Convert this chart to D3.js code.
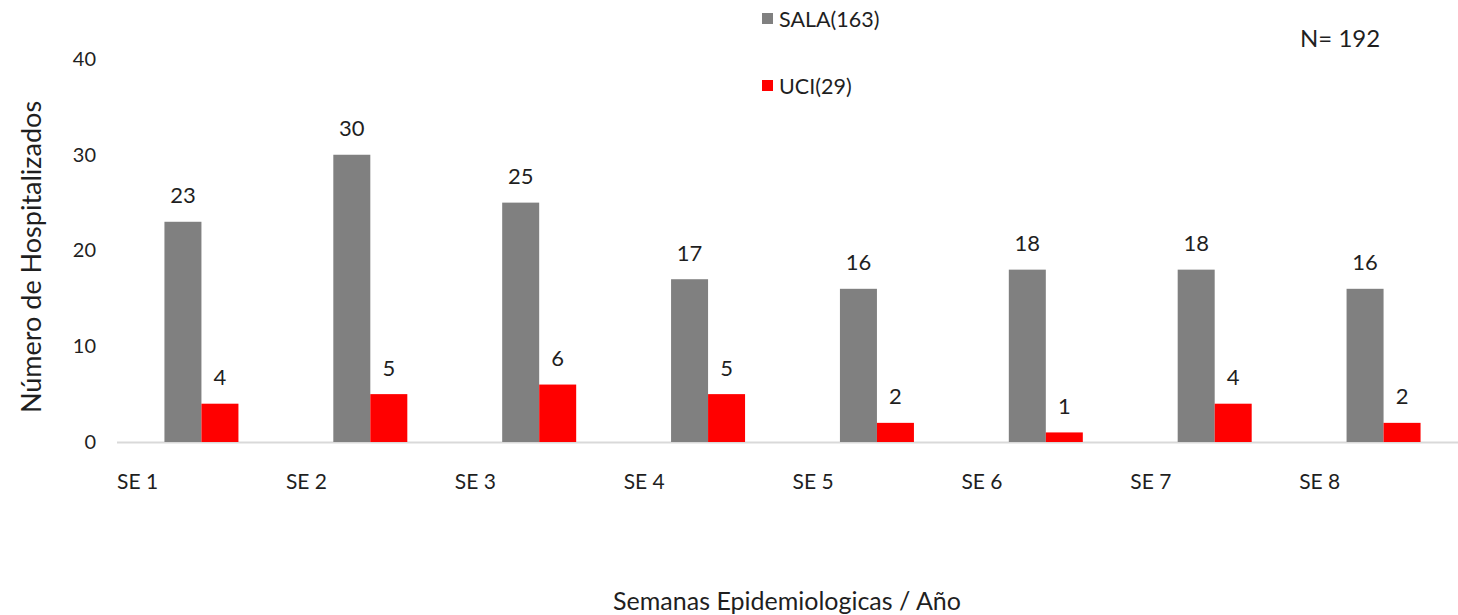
<!DOCTYPE html>
<html><head><meta charset="utf-8">
<script src="https://cdn.jsdelivr.net/npm/d3@7"></script>
<style>body{margin:0;background:#fff}svg{display:block}text{font-family:Lato,"Open Sans",sans-serif;fill:#1f1f1f}</style>
</head><body>
<svg id="c" width="1458" height="615"></svg>
<script>
const categories = ["SE 1","SE 2","SE 3","SE 4","SE 5","SE 6","SE 7","SE 8"];
const seriesNames = ["SALA(163)","UCI(29)"];
const sala = [23,30,25,17,16,18,18,16];
const uci = [4,5,6,5,2,1,4,2];
const yTicks = [0,10,20,30,40];
const colors = ["#808080","#ff0000"];

const svg = d3.select("#c");
const y = d3.scaleLinear().domain([0,40]).range([442,59]);
const x = d3.scaleBand().domain(categories).range([117,1468]).padding(0);
const bw = x.bandwidth();
const x1 = d3.scaleBand().domain([0,1]).range([bw/2-37, bw/2+37]);

// axis line
svg.append("line").attr("x1",117).attr("x2",1458).attr("y1",y(0)+0.5).attr("y2",y(0)+0.5)
  .attr("stroke","#d9d9d9").attr("stroke-width",2);

// y ticks
const yAxis = d3.axisLeft(y).tickValues(yTicks).tickSize(0).tickPadding(0);
const ga = svg.append("g").attr("transform","translate(96,0)").call(yAxis);
ga.select(".domain").remove();
ga.selectAll("text").style("font-size","20px").style("font-family","Lato,'Open Sans',sans-serif").attr("fill","#1f1f1f");

// bars
const data = categories.map((c,i)=>({c, vals:[sala[i],uci[i]]}));
const g = svg.selectAll("g.cat").data(data).join("g").attr("class","cat")
  .attr("transform",d=>`translate(${x(d.c)},0)`);
g.selectAll("rect").data(d=>d.vals.map((v,k)=>({v,k}))).join("rect")
  .attr("x",d=>x1(d.k)).attr("width",x1.bandwidth())
  .attr("y",d=>y(d.v)).attr("height",d=>y(0)-y(d.v))
  .attr("fill",d=>colors[d.k]);
g.selectAll("text.lbl").data(d=>d.vals.map((v,k)=>({v,k}))).join("text").attr("class","lbl")
  .attr("x",d=>x1(d.k)+x1.bandwidth()/2).attr("y",d=>y(d.v)-27)
  .attr("text-anchor","middle").attr("font-size","22px").attr("dominant-baseline","central")
  .text(d=>d.v);

// x labels
svg.selectAll("text.xl").data(categories).join("text").attr("class","xl")
  .attr("x",d=>x(d)).attr("y",480).attr("dominant-baseline","central")
  .attr("font-size","21px").text(d=>d);

// axis titles
svg.append("text").attr("transform","translate(30,257) rotate(-90)").attr("text-anchor","middle")
  .attr("dominant-baseline","central").attr("font-size","27px").text("Número de Hospitalizados");
svg.append("text").attr("x",787).attr("y",600).attr("text-anchor","middle")
  .attr("dominant-baseline","central").attr("font-size","25px").text("Semanas Epidemiologicas / Año");

// legend
const leg = svg.selectAll("g.leg").data(seriesNames).join("g").attr("class","leg")
  .attr("transform",(d,i)=>`translate(762,${19+i*67})`);
leg.append("rect").attr("x",0).attr("y",-6).attr("width",11).attr("height",11).attr("fill",(d,i)=>colors[i]);
leg.append("text").attr("x",17).attr("y",0).attr("dominant-baseline","central").attr("font-size","21.5px").text(d=>d);

svg.append("text").attr("x",1300).attr("y",37).attr("dominant-baseline","central").attr("font-size","24px").text("N= 192");
</script>
</body></html>
